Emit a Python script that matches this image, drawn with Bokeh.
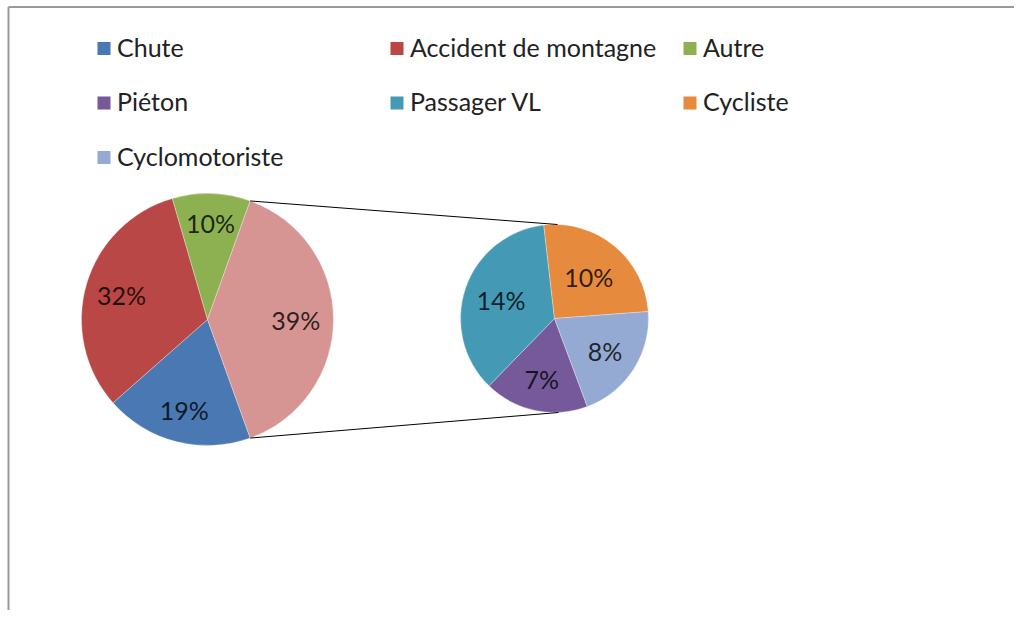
import math
from bokeh.plotting import figure
from bokeh.models import Range1d, ColumnDataSource
from bokeh.core.properties import value
from bokeh.embed import file_html
from bokeh.resources import INLINE

# ---- data ----
main_labels = ["Chute", "Accident de montagne", "Autre"]
main_values = [19, 32, 10]
sec_labels = ["Piéton", "Passager VL", "Cycliste", "Cyclomotoriste"]
sec_values = [7, 14, 10, 8]
main_colors = ["#4A78B2", "#B94745", "#8DB150"]
other_color = "#D69593"
sec_colors = ["#76599B", "#4499B5", "#E68A3D", "#94AAD2"]

legend_labels = main_labels + sec_labels
legend_colors = main_colors + sec_colors

W, H = 1014, 610
FONT = "Lato"
FS = "25px"

def X(px):
    return px

def Y(py):
    return H - py

p = figure(width=W, height=H, output_backend="svg", toolbar_location=None,
           x_range=Range1d(0, W), y_range=Range1d(0, H), min_border=0)
p.axis.visible = False
p.grid.visible = False
p.outline_line_color = None
p.background_fill_color = "white"
p.border_fill_color = "white"

# chart area border (top and left visible)
p.segment(x0=[X(8), X(8)], y0=[Y(6.5), Y(6.5)], x1=[X(8), W], y1=[0, Y(6.5)],
          line_color="#999999", line_width=2)

# ---- geometry ----
cx1, cy1, r1 = X(207), Y(319), 126
cx2, cy2, r2 = X(554), Y(318), 94

total_main = sum(main_values) + sum(sec_values)
other = sum(sec_values)
a = other / total_main * math.pi  # half-angle of the "other" slice

# main pie wedges: clockwise from -a, order Chute, Accident, Autre
m_start, m_end, m_mid = [], [], []
cur = -a
for v in main_values:
    th = v / total_main * 2 * math.pi
    m_end.append(cur)
    m_start.append(cur - th)
    m_mid.append(cur - th / 2)
    cur -= th

wedge_src = ColumnDataSource(dict(
    start=m_start + [-a], end=m_end + [a],
    color=main_colors + [other_color]))
p.wedge(x=cx1, y=cy1, radius=r1, start_angle="start", end_angle="end",
        fill_color="color", line_color="white", line_width=0.6, line_alpha=0.5,
        source=wedge_src)

# secondary pie: clockwise order Piéton, Passager VL, Cycliste, Cyclomotoriste
phi0 = math.radians(-69.6)
s_start, s_end, s_mid = [], [], []
cur = phi0
tot_sec = sum(sec_values)
for v in sec_values:
    th = v / tot_sec * 2 * math.pi
    s_end.append(cur)
    s_start.append(cur - th)
    s_mid.append(cur - th / 2)
    cur -= th
sec_src = ColumnDataSource(dict(start=s_start, end=s_end, color=sec_colors))
p.wedge(x=cx2, y=cy2, radius=r2, start_angle="start", end_angle="end",
        fill_color="color", line_color="white", line_width=0.6, line_alpha=0.5,
        source=sec_src)

# connector lines
p.segment(x0=[cx1 + r1 * math.cos(a), cx1 + r1 * math.cos(-a)],
          y0=[cy1 + r1 * math.sin(a), cy1 + r1 * math.sin(-a)],
          x1=[cx2 + 3, cx2 + 4], y1=[cy2 + r2, cy2 - r2],
          line_color="black", line_width=1)

# ---- data labels ----
main_frac = [0.74, 0.71, 0.77]
sec_frac = [0.66, 0.6, 0.57, 0.64]
lbl_x, lbl_y, lbl_t = [], [], []
for v, ang, f in zip(main_values, m_mid, main_frac):
    lbl_x.append(cx1 + f * r1 * math.cos(ang))
    lbl_y.append(cy1 + f * r1 * math.sin(ang))
    lbl_t.append(f"{round(v / total_main * 100)}%")
lbl_x.append(cx1 + 0.70 * r1)
lbl_y.append(cy1)
lbl_t.append(f"{round(other / total_main * 100)}%")
for v, ang, f in zip(sec_values, s_mid, sec_frac):
    lbl_x.append(cx2 + f * r2 * math.cos(ang))
    lbl_y.append(cy2 + f * r2 * math.sin(ang))
    lbl_t.append(f"{round(v / total_main * 100)}%")
p.text(x=lbl_x, y=lbl_y, text=lbl_t, text_font=value(FONT), text_font_size=FS,
       text_color="black", text_alpha=0.8, text_align="center",
       text_baseline="middle")

# ---- legend (3 columns, row-major) ----
lg_x = [X(103.5 + 293 * (i % 3)) for i in range(len(legend_labels))]
lg_y = [Y(48 + 54.5 * (i // 3)) for i in range(len(legend_labels))]
p.scatter(x=lg_x, y=lg_y, marker="square", size=13, fill_color=legend_colors,
          line_color=None)
p.text(x=[x + 13 for x in lg_x], y=[y + 2 for y in lg_y], text=legend_labels,
       text_font=value(FONT), text_font_size=FS, text_color="#222222",
       text_align="left", text_baseline="middle")

open("out.html", "w").write(file_html(p, INLINE))
